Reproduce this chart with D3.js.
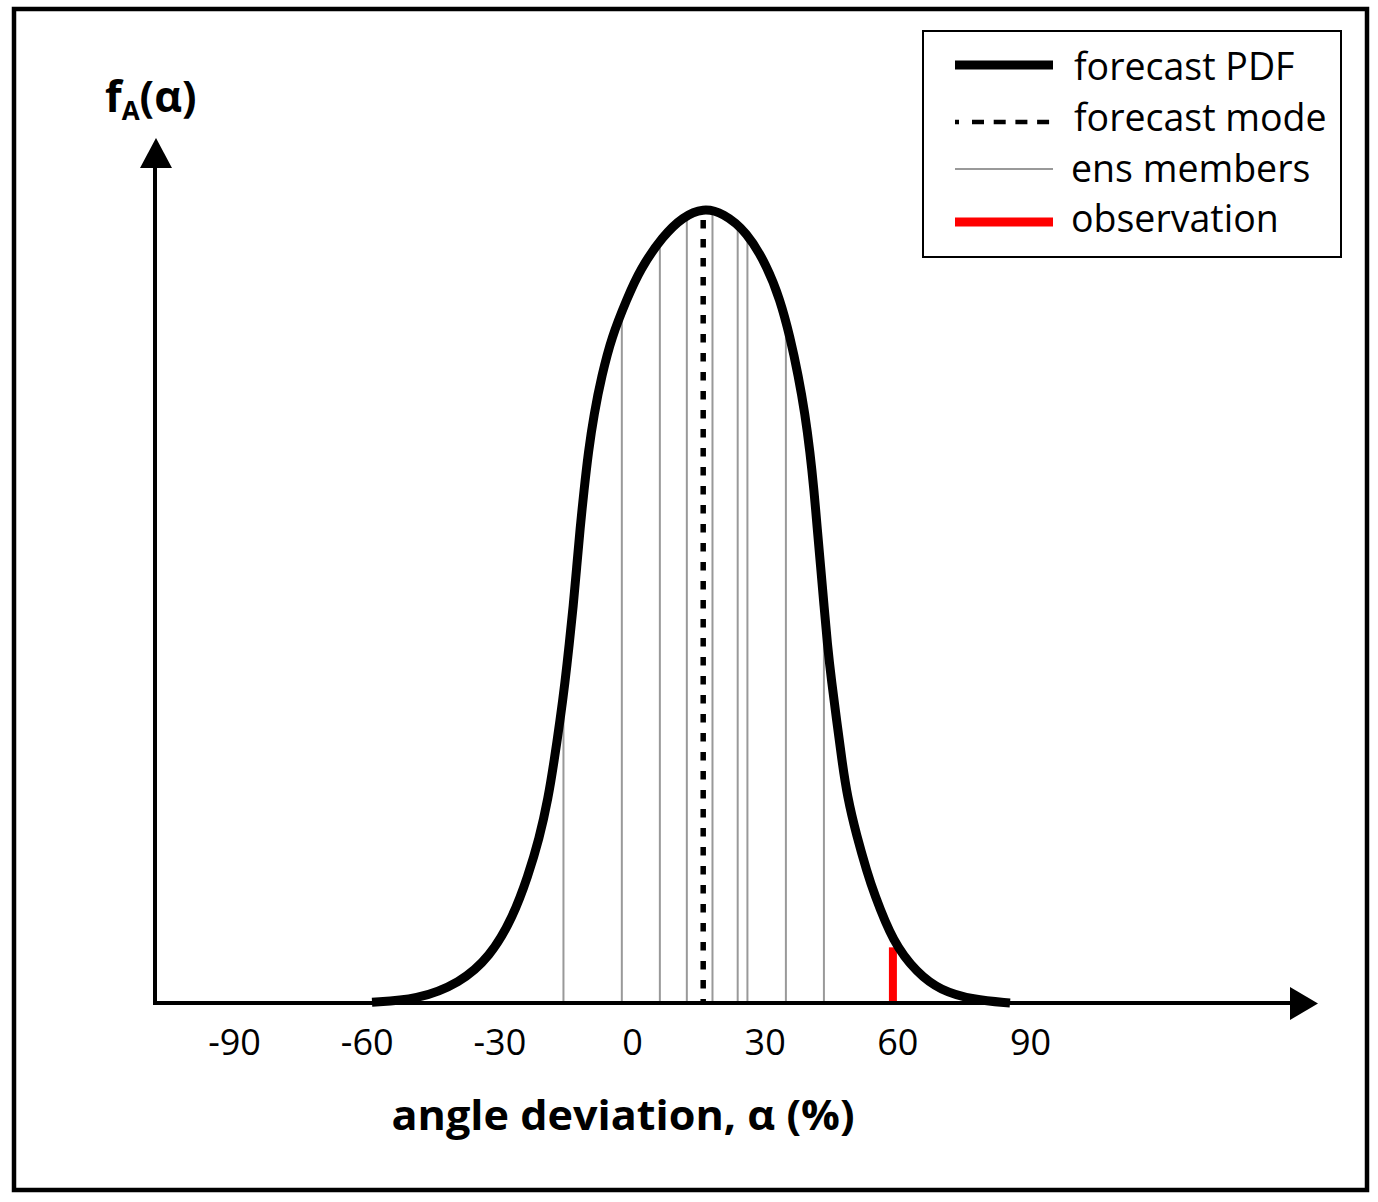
<!DOCTYPE html>
<html>
<head>
<meta charset="utf-8">
<script src="https://cdn.jsdelivr.net/npm/d3@7"></script>
<style>
  html, body { margin: 0; padding: 0; background: #fff; }
  svg { display: block; }
  text { font-family: "Open Sans", "Noto Sans", sans-serif; fill: #000; }
</style>
</head>
<body>
<svg id="chart" width="1378" height="1202"></svg>
<script>
// ---- data ----
const tickValues = [-90, -60, -30, 0, 30, 60, 90];
const tickLabels = ["-90", "-60", "-30", "0", "30", "60", "90"];
// forecast PDF (angle deviation, relative density)
const pdfAlpha = [-58.79, -48.62, -38.89, -32.11, -26.91, -23.5, -21.0, -18.93, -17.57, -16.28, -15.15, -14.18, -13.27, -12.51, -11.76, -10.85, -9.88, -8.59, -6.85, -4.59, -1.20, 1.81, 7.01, 11.53, 16.06, 20.58, 26.00, 30.53, 33.47, 35.73, 37.61, 39.12, 40.25, 41.16, 41.90, 42.67, 43.42, 44.16, 45.16, 46.29, 47.42, 48.69, 50.81, 53.2, 54.6, 59.02, 64.45, 69.65, 77.11, 85.48];
const pdfDensity = [0.001, 0.004, 0.025, 0.058, 0.108, 0.160, 0.206, 0.258, 0.306, 0.355, 0.403, 0.452, 0.500, 0.548, 0.596, 0.645, 0.693, 0.741, 0.789, 0.838, 0.885, 0.923, 0.965, 0.989, 1.0, 0.994, 0.970, 0.927, 0.885, 0.838, 0.789, 0.741, 0.693, 0.645, 0.596, 0.548, 0.500, 0.452, 0.403, 0.355, 0.307, 0.259, 0.210, 0.164, 0.140, 0.076, 0.038, 0.016, 0.004, 0.0];
const ensMembers = [-15.5, -2.3, 6.3, 12.4, 18.2, 23.9, 26.1, 34.8, 43.4];
const forecastMode = [16.1];
const observation = [59.0];
const legendLabels = ["forecast PDF", "forecast mode", "ens members", "observation"];

// ---- setup ----
const svg = d3.select("#chart");
const x = d3.scaleLinear().domain([-90, 90]).range([234, 1030]);
const y = d3.scaleLinear().domain([0, 1]).range([1003, 208]);
const pdf = pdfAlpha.map((a, i) => ({a: a, f: pdfDensity[i]}));

function densityAt(a) {
  const i = d3.bisector(d => d.a).right(pdf, a);
  if (i <= 0) return pdf[0].f;
  if (i >= pdf.length) return pdf[pdf.length - 1].f;
  const p0 = pdf[i - 1], p1 = pdf[i];
  const t = (a - p0.a) / (p1.a - p0.a);
  return p0.f + t * (p1.f - p0.f);
}

// outer frame
svg.append("rect").attr("x", 14).attr("y", 9).attr("width", 1353).attr("height", 1181)
  .attr("fill", "none").attr("stroke", "#000").attr("stroke-width", 4.5);

// ensemble members
svg.append("g").selectAll("line").data(ensMembers).join("line")
  .attr("x1", d => x(d)).attr("x2", d => x(d))
  .attr("y1", y(0)).attr("y2", d => y(densityAt(d)))
  .attr("stroke", "#999").attr("stroke-width", 2);

// observation
svg.append("g").selectAll("line").data(observation).join("line")
  .attr("x1", d => x(d)).attr("x2", d => x(d))
  .attr("y1", y(0)).attr("y2", d => y(densityAt(d)) + 5)
  .attr("stroke", "#ff0000").attr("stroke-width", 8);

// forecast mode (dashed)
svg.append("g").selectAll("line").data(forecastMode).join("line")
  .attr("x1", d => x(d)).attr("x2", d => x(d))
  .attr("y1", y(0.985)).attr("y2", y(0))
  .attr("stroke", "#000").attr("stroke-width", 5.5)
  .attr("stroke-dasharray", "8.5,10.5");

// axes lines with arrows
svg.append("line").attr("x1", 155).attr("x2", 155).attr("y1", 1005).attr("y2", 165)
  .attr("stroke", "#000").attr("stroke-width", 4);
svg.append("path").attr("d", "M140,168 L172,168 L156,138 Z").attr("fill", "#000");
svg.append("line").attr("x1", 153).attr("x2", 1292).attr("y1", 1003).attr("y2", 1003)
  .attr("stroke", "#000").attr("stroke-width", 4);
svg.append("path").attr("d", "M1290,987 L1290,1020 L1318,1003.5 Z").attr("fill", "#000");

// forecast PDF curve
const line = d3.line().x(d => x(d.a)).y(d => y(d.f)).curve(d3.curveBasis);
svg.append("path").datum(pdf).attr("d", line)
  .attr("fill", "none").attr("stroke", "#000").attr("stroke-width", 9)
  .attr("stroke-linejoin", "round").attr("stroke-linecap", "butt");

// x tick labels via d3 axis
const xAxis = d3.axisBottom(x).tickValues(tickValues)
  .tickFormat((d, i) => tickLabels[i]).tickSize(0).tickPadding(0);
const gx = svg.append("g").attr("transform", "translate(0,1029)").call(xAxis);
gx.select(".domain").remove();
gx.selectAll("text").attr("font-family", "'Open Sans', sans-serif")
  .attr("font-size", 36).attr("fill", "#000").attr("dy", "0.71em");

// x axis title
svg.append("text").attr("x", 623).attr("y", 1130).attr("text-anchor", "middle")
  .attr("font-size", 42).attr("font-weight", "bold")
  .attr("textLength", 463).attr("lengthAdjust", "spacingAndGlyphs")
  .text("angle deviation, α (%)");

// y axis title
const yt = svg.append("text").attr("x", 105).attr("y", 112)
  .attr("font-size", 43).attr("font-weight", "bold");
yt.append("tspan").text("f");
yt.append("tspan").attr("font-size", 26).attr("dy", 8).text("A");
yt.append("tspan").attr("dy", -8).text("(α)");

// legend
const lg = svg.append("g");
lg.append("rect").attr("x", 923).attr("y", 31).attr("width", 418).attr("height", 226)
  .attr("fill", "#fff").attr("stroke", "#000").attr("stroke-width", 2);
const legendY = [65, 122, 169, 222];
const legendTextY = [80, 131, 182, 232];
const legendStyles = [
  {stroke: "#000", width: 9, dash: null},
  {stroke: "#000", width: 4.5, dash: "4,13,12,9.7,12,9.7,12,9.7,12,9.7,12,50"},
  {stroke: "#999", width: 2, dash: null},
  {stroke: "#ff0000", width: 9, dash: null}
];
legendLabels.forEach((lab, i) => {
  const st = legendStyles[i];
  const ln = lg.append("line").attr("x1", 955).attr("x2", 1053)
    .attr("y1", legendY[i]).attr("y2", legendY[i])
    .attr("stroke", st.stroke).attr("stroke-width", st.width);
  if (st.dash) ln.attr("stroke-dasharray", st.dash);
  lg.append("text").attr("x", i < 2 ? 1074 : 1071).attr("y", legendTextY[i])
    .attr("font-size", 37.5).text(lab);
});
</script>
</body>
</html>
